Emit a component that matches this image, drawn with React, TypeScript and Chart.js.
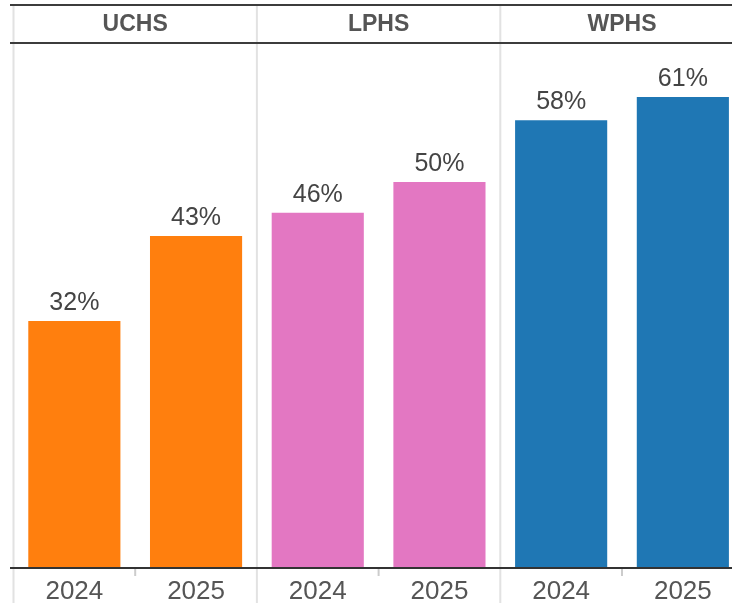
import React, { useEffect, useRef } from "react";
import { Chart, registerables } from "chart.js";

Chart.register(...registerables);

const panels = ["UCHS", "LPHS", "WPHS"];
const years = ["2024", "2025"];
const categories = ["2024", "2025", "2024", "2025", "2024", "2025"];
const values = [32, 43, 46, 50, 58, 61];
const panelColors = ["#FF7F0E", "#E377C2", "#1F77B4"];

const W = 750;
const H = 603;

export default function App() {
  const ref = useRef<HTMLCanvasElement | null>(null);

  useEffect(() => {
    if (!ref.current) return;
    const barColors = values.map((_, i) => panelColors[Math.floor(i / years.length)]);

    const framePlugin = {
      id: "frames",
      beforeDatasetsDraw(chart: any) {
        const { ctx, chartArea } = chart;
        const x = chart.scales.x;
        const cat = (chartArea.right - chartArea.left) / categories.length;
        const headerTop = 5;
        const headerBottom = chartArea.top;
        ctx.save();
        ctx.strokeStyle = "#e2e2e2";
        ctx.lineWidth = 2;
        for (let p = 0; p <= panels.length; p++) {
          const bx = chartArea.left + p * years.length * cat;
          ctx.beginPath();
          ctx.moveTo(bx, headerTop);
          ctx.lineTo(bx, H);
          ctx.stroke();
        }
        ctx.strokeStyle = "#cccccc";
        for (let p = 0; p < panels.length; p++) {
          const mx = chartArea.left + (p * years.length + 1) * cat;
          ctx.beginPath();
          ctx.moveTo(mx, chartArea.bottom);
          ctx.lineTo(mx, chartArea.bottom + 8);
          ctx.stroke();
        }
        ctx.strokeStyle = "#3c3c3c";
        ctx.lineWidth = 2;
        ctx.beginPath();
        ctx.moveTo(10, headerTop);
        ctx.lineTo(W, headerTop);
        ctx.moveTo(10, headerBottom);
        ctx.lineTo(W, headerBottom);
        ctx.stroke();
        ctx.fillStyle = "#555555";
        ctx.font = 'bold 23px "Liberation Sans", Arial, sans-serif';
        ctx.textAlign = "center";
        ctx.textBaseline = "middle";
        panels.forEach((name, p) => {
          const cx =
            (x.getPixelForValue(p * years.length) +
              x.getPixelForValue(p * years.length + years.length - 1)) /
            2;
          ctx.fillText(name, cx, (headerTop + headerBottom) / 2 + 1);
        });
        ctx.restore();
      },
      afterDatasetsDraw(chart: any) {
        const { ctx, chartArea } = chart;
        ctx.save();
        ctx.strokeStyle = "#333333";
        ctx.lineWidth = 2;
        ctx.beginPath();
        ctx.moveTo(10, chartArea.bottom);
        ctx.lineTo(W, chartArea.bottom);
        ctx.stroke();
        ctx.fillStyle = "#444444";
        ctx.font = '25px "Liberation Sans", Arial, sans-serif';
        ctx.textAlign = "center";
        ctx.textBaseline = "alphabetic";
        const meta = chart.getDatasetMeta(0);
        meta.data.forEach((bar: any, i: number) => {
          ctx.fillText(values[i] + "%", bar.x, bar.y - 11);
        });
        ctx.restore();
      },
    };

    const chart = new Chart(ref.current, {
      type: "bar",
      data: {
        labels: categories,
        datasets: [
          {
            data: values,
            backgroundColor: barColors,
            borderWidth: 0,
            barPercentage: 0.757,
            categoryPercentage: 1,
          },
        ],
      },
      options: {
        responsive: false,
        animation: false,
        devicePixelRatio: 1,
        layout: { padding: { left: 13.5, right: 6.3, top: 43, bottom: 0 } },
        plugins: { legend: { display: false }, tooltip: { enabled: false } },
        scales: {
          x: {
            grid: { display: false },
            border: { display: false },
            afterFit: (s: any) => {
              s.height = 35;
            },
            ticks: {
              padding: 3,
              color: "#555555",
              font: { size: 26, family: '"Liberation Sans", Arial, sans-serif', lineHeight: 1 },
              maxRotation: 0,
              autoSkip: false,
            },
          },
          y: { display: false, min: 0, max: 68 },
        },
      },
      plugins: [framePlugin],
    });
    return () => chart.destroy();
  }, []);

  return (
    <div
      style={{
        position: "fixed",
        left: 0,
        top: 0,
        width: 732,
        height: 603,
        overflow: "hidden",
        background: "#fff",
      }}
    >
      <canvas ref={ref} width={W} height={H} style={{ width: W, height: H, display: "block" }} />
    </div>
  );
}
